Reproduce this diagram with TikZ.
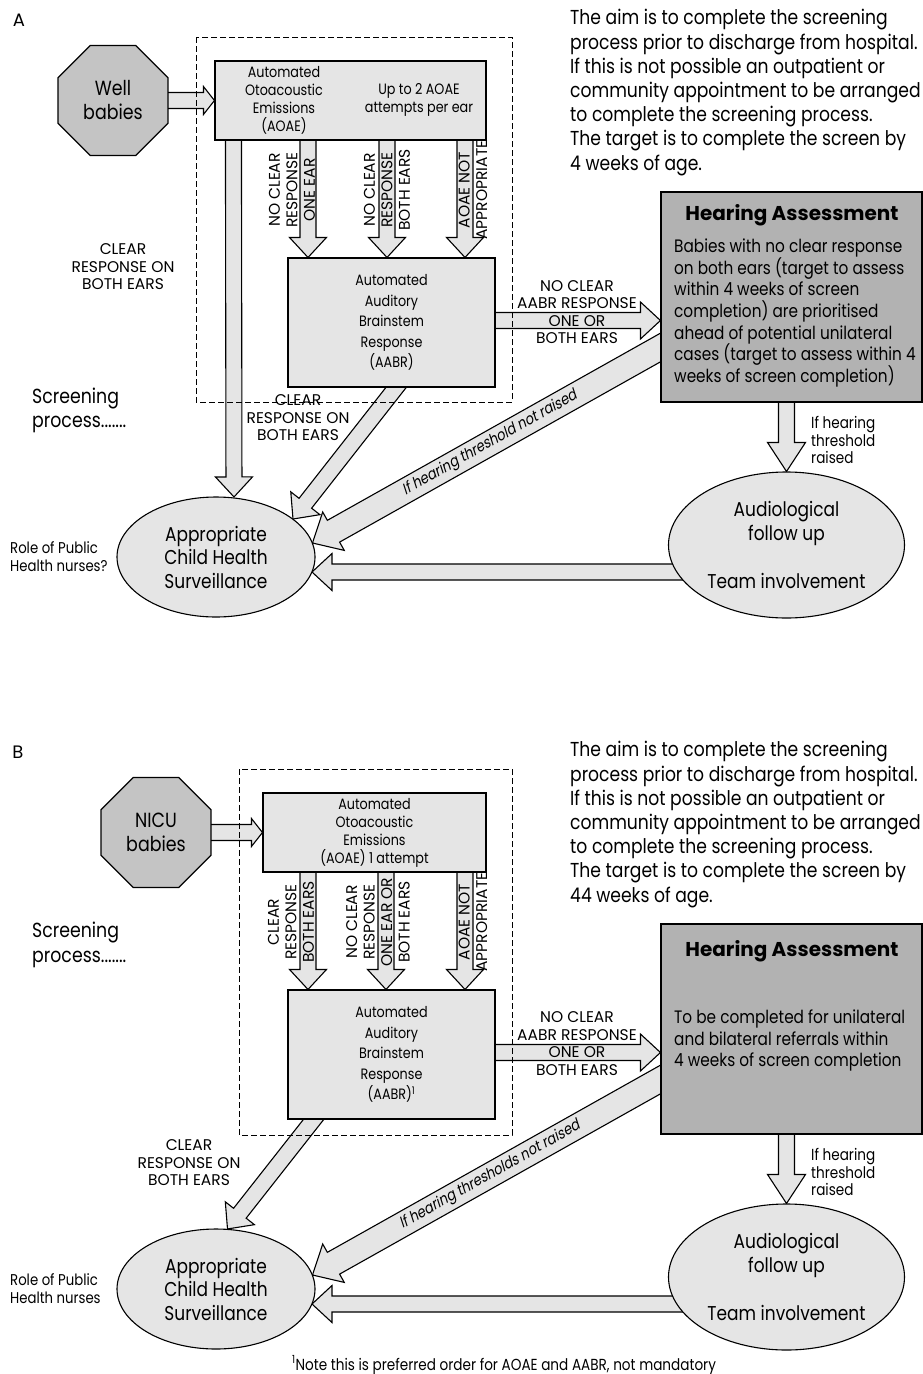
\documentclass[tikz,border=0pt]{standalone}
\usepackage{fontspec}
\setmainfont{Poppins}[FakeStretch=0.85]
\newfontfamily\myslant{Poppins}[FakeStretch=0.85,FakeSlant=0.2]
\newfontfamily\mywide{Poppins}
\usetikzlibrary{shapes.geometric,calc}
\pgfdeclarelayer{back}
\pgfdeclarelayer{bg}
\pgfsetlayers{back,bg,main}
\newdimen\BAsw \newdimen\BAhw \newdimen\BAhl \newdimen\BAext
\definecolor{lightfill}{gray}{0.9}
\definecolor{octfill}{gray}{0.77}
\definecolor{hearfill}{gray}{0.70}
\newcommand{\myAim}{\fontsize{20.2}{24.2}\selectfont}
\newcommand{\myBody}{\fontsize{18}{21.7}\selectfont}
\newcommand{\myTitle}{\mywide\fontsize{20}{22}\selectfont\bfseries}
\newcommand{\myEll}{\fontsize{20}{23.5}\selectfont}
\newcommand{\myBoxA}{\fontsize{15}{18}\selectfont}
\newcommand{\myBoxB}{\fontsize{15}{20.5}\selectfont}
\newcommand{\myCap}{\mywide\fontsize{15.5}{17.5}\selectfont}
\newcommand{\mySmall}{\fontsize{16}{17.5}\selectfont}
\newcommand{\myRole}{\fontsize{15.6}{17.5}\selectfont}
\newcommand{\myOct}{\fontsize{20.5}{24}\selectfont}
\newcommand{\myScr}{\fontsize{20.4}{24.5}\selectfont}
\newcommand{\myLet}{\mywide\fontsize{18}{20}\selectfont}
\tikzset{
  bsw/.code={\BAsw=#1\relax}, bhw/.code={\BAhw=#1\relax},
  bhl/.code={\BAhl=#1\relax}, bext/.code={\BAext=#1\relax},
  barrow/.style={draw=black, fill=lightfill, line width=1.1pt, line join=miter,
    bsw=8pt, bhw=18.5pt, bhl=20pt, bext=4pt,
    to path={let \p1=(\tikztostart), \p2=(\tikztotarget),
      \n1={atan2(\y2-\y1,\x2-\x1)},
      \n2={veclen(\x2-\x1,\y2-\y1)-\BAhl} in
      ($(\p1)+(\n1+180:\the\BAext)+(\n1+90:\the\BAsw)$)
      -- ($(\p1)+(\n1:\n2)+(\n1+90:\the\BAsw)$)
      -- ($(\p1)+(\n1:\n2)+(\n1+90:\the\BAhw)$)
      -- (\p2)
      -- ($(\p1)+(\n1:\n2)+(\n1-90:\the\BAhw)$)
      -- ($(\p1)+(\n1:\n2)+(\n1-90:\the\BAsw)$)
      -- ($(\p1)+(\n1+180:\the\BAext)+(\n1-90:\the\BAsw)$)
      -- cycle}},
  smallhead/.style={bhw=14pt, bhl=11pt},
  widearrow/.style={bsw=12.5pt, bhw=22pt, bhl=24pt, bext=14pt},
  longhead/.style={bhl=29pt, bhw=19pt},
  procbox/.style={draw, fill=lightfill, line width=1.1pt, inner sep=0pt},
  hearbox/.style={draw, fill=hearfill, line width=1.1pt, inner sep=0pt, minimum width=261pt, minimum height=210pt},
  oct/.style={regular polygon, regular polygon sides=8, draw, fill=octfill, line width=1.1pt,
    minimum size=119pt, inner sep=0pt, align=center, font=\myOct},
  ell/.style={ellipse, draw, fill=lightfill, line width=1.1pt, inner sep=0pt, align=center, font=\myEll},
  dashedbox/.style={draw, dash pattern=on 6pt off 3pt, line width=1pt},
  txt/.style={inner sep=0pt, align=center},
  vlab/.style={rotate=90, inner sep=0pt, align=center, font=\myCap},
}
\begin{document}
\begin{tikzpicture}[x=1pt,y=-1pt]
\useasboundingbox (0,0) rectangle (923,1374);
\begin{pgfonlayer}{back}
\fill[white] (0,0) rectangle (923,1374);
\end{pgfonlayer}

%% ================= PANEL A =================
\node[txt, font=\myLet] (labA) at (19,20) {A};
\node[txt, font=\myAim, align=left, anchor=west] (aimA) at (570,92.5)
  {The aim is to complete the screening\\process prior to discharge from hospital.\\If this is not possible an outpatient or\\community appointment to be arranged\\to complete the screening process.\\The target is to complete the screen by\\4 weeks of age.};
\node[oct] (wellA) at (113,100.5) {Well\\babies};
\node[procbox, minimum width=271pt, minimum height=79pt] (aoaeA) at (350.5,100.5) {};
\node[txt, font=\myBoxA] (aoaeAt1) at (284,100) {Automated\\Otoacoustic\\Emissions\\(AOAE)};
\node[txt, font=\myBoxA] (aoaeAt2) at (419,100) {Up to 2 AOAE\\attempts per ear};
\node[procbox, minimum width=207pt, minimum height=129pt, font=\myBoxB, align=center] (aabrA) at (391.5,322.5)
  {Automated\\Auditory\\Brainstem\\Response\\(AABR)};
\node[hearbox] (hearA) at (791.5,297) {};
\node[txt, font=\myTitle] (hearAt) at (792,215) {Hearing Assessment};
\node[txt, font=\myBody, align=left, anchor=west] (hearAb) at (674,313)
  {Babies with no clear response\\on both ears (target to assess\\within 4 weeks of screen\\completion) are prioritised\\ahead of potential unilateral\\cases (target to assess within 4\\weeks of screen completion)};
\node[ell, minimum width=198pt, minimum height=120pt] (chsA) at (216,557) {Appropriate\\Child Health\\Surveillance};
\node[ell, minimum width=236pt, minimum height=146pt] (audA) at (786.5,545) {Audiological\\follow up\\[25pt]Team involvement};

\node[txt, font=\myCap] (clrA) at (123,267) {CLEAR\\RESPONSE ON\\BOTH EARS};
\node[txt, font=\myScr, align=left, anchor=west] (scrA) at (32,410.5) {Screening\\process.......};
\node[txt, font=\myRole, align=left, anchor=west] (roleA) at (10,556.5) {Role of Public\\Health nurses?};
\node[vlab] (v1A) at (292,190) {NO CLEAR\\RESPONSE\\ONE EAR};
\node[vlab] (v2A) at (387,190) {NO CLEAR\\RESPONSE\\BOTH EARS};
\node[vlab] (v3A) at (473,190) {AOAE NOT\\APPROPRIATE};
\node[txt, font=\myCap] (nocA) at (577,312) {NO CLEAR\\AABR RESPONSE\\ONE OR\\BOTH EARS};
\node[txt, font=\myCap] (clr2A) at (298,418) {CLEAR\\RESPONSE ON\\BOTH EARS};
\node[txt, font=\mySmall, align=left, anchor=west] (raiA) at (811,440) {If hearing\\threshold\\raised};

\coordinate (thrAs) at ($(hearA.west)+(0,50.5)$);
\coordinate (thrAe) at ($(chsA.center)+(96.5,-14)$);

\begin{pgfonlayer}{bg}
\draw[barrow, smallhead] (wellA.east) to (aoaeA.west);
\draw[barrow] ($(aoaeA.south west)+(19,0)$) to ($(chsA.north)+(18,0.5)$);
\draw[barrow] ($(aoaeA.south)+(-42.5,0)$) to ($(aabrA.north)+(-83.5,0)$);
\draw[barrow] ($(aoaeA.south)+(36.5,0)$) to ($(aabrA.north)+(-4.5,0)$);
\draw[barrow] ($(aoaeA.south)+(114.5,0)$) to ($(aabrA.north)+(73.5,0)$);
\draw[barrow] ($(aabrA.east)+(0,-2)$) to ($(hearA.west)+(0,23.5)$);
\draw[barrow, bext=12pt] ($(aabrA.south)+(4.5,0)$) to ($(chsA.center)+(77,-38)$);
\draw[barrow, widearrow] (thrAs) to (thrAe);
\draw[barrow, longhead] ($(hearA.south)+(-5,0)$) to (audA.north);
\draw[barrow, bext=0pt] ($(audA.center)+(-100,27)$) to ($(chsA.center)+(96,15)$);
\end{pgfonlayer}
\path (thrAe) -- node[pos=0.51, sloped, txt, font=\myslant\fontsize{15.5}{17}\selectfont] (thrAt) {If hearing threshold not raised} (thrAs);
\draw[dashedbox] (196,37) rectangle (512,402);

%% ================= PANEL B =================
\node[txt, font=\myLet] (labB) at (18,752) {B};
\node[txt, font=\myAim, align=left, anchor=west] (aimB) at (570,824.5)
  {The aim is to complete the screening\\process prior to discharge from hospital.\\If this is not possible an outpatient or\\community appointment to be arranged\\to complete the screening process.\\The target is to complete the screen by\\44 weeks of age.};
\node[oct] (nicuB) at (156,832.5) {NICU\\babies};
\node[procbox, minimum width=223pt, minimum height=79pt] (aoaeB) at (374.5,832.5) {};
\node[txt, font=\myBoxA] (aoaeBt) at (374.5,833) {Automated\\Otoacoustic\\Emissions\\(AOAE) 1 attempt};
\node[procbox, minimum width=207pt, minimum height=129pt, font=\myBoxB, align=center] (aabrB) at (391.5,1054.5)
  {Automated\\Auditory\\Brainstem\\Response\\(AABR)\textsuperscript{1}};
\node[hearbox] (hearB) at (791.5,1029) {};
\node[txt, font=\myTitle] (hearBt) at (792,951) {Hearing Assessment};
\node[txt, font=\myBody, align=left, anchor=west] (hearBb) at (674,1040.5)
  {To be completed for unilateral\\and bilateral referrals within\\4 weeks of screen completion};
\node[ell, minimum width=198pt, minimum height=120pt] (chsB) at (216,1289) {Appropriate\\Child Health\\Surveillance};
\node[ell, minimum width=236pt, minimum height=146pt] (audB) at (786.5,1277) {Audiological\\follow up\\[25pt]Team involvement};

\node[txt, font=\myScr, align=left, anchor=west] (scrB) at (32,945) {Screening\\process.......};
\node[txt, font=\myRole, align=left, anchor=west] (roleB) at (10,1288.5) {Role of Public\\Health nurses};
\node[vlab] (v1B) at (291,922) {CLEAR\\RESPONSE\\BOTH EARS};
\node[vlab] (v2B) at (378,922) {NO CLEAR\\RESPONSE\\ONE EAR OR\\BOTH EARS};
\node[vlab] (v3B) at (473,922) {AOAE NOT\\APPROPRIATE};
\node[txt, font=\myCap] (nocB) at (577,1043.5) {NO CLEAR\\AABR RESPONSE\\ONE OR\\BOTH EARS};
\node[txt, font=\myCap] (clrB) at (189,1163) {CLEAR\\RESPONSE ON\\BOTH EARS};
\node[txt, font=\mySmall, align=left, anchor=west] (raiB) at (811,1172) {If hearing\\threshold\\raised};
\node[txt, font=\mySmall] (noteB) at (504,1365) {\textsuperscript{1}Note this is preferred order for AOAE and AABR, not mandatory};

\coordinate (thrBs) at ($(hearB.west)+(0,50.5)$);
\coordinate (thrBe) at ($(chsB.center)+(96.5,-14)$);

\begin{pgfonlayer}{bg}
\draw[barrow, smallhead] (nicuB.east) to (aoaeB.west);
\draw[barrow] ($(aoaeB.south)+(-66.5,0)$) to ($(aabrB.north)+(-83.5,0)$);
\draw[barrow] ($(aoaeB.south)+(11.5,0)$) to ($(aabrB.north)+(-5.5,0)$);
\draw[barrow] ($(aoaeB.south)+(90.5,0)$) to ($(aabrB.north)+(73.5,0)$);
\draw[barrow] ($(aabrB.east)+(0,-2)$) to ($(hearB.west)+(0,23.5)$);
\draw[barrow, bext=12pt] ($(aabrB.south)+(-78,0)$) to ($(chsB.north)+(11.5,0.5)$);
\draw[barrow, widearrow] (thrBs) to (thrBe);
\draw[barrow, longhead] ($(hearB.south)+(-5,0)$) to (audB.north);
\draw[barrow, bext=0pt] ($(audB.center)+(-100,27)$) to ($(chsB.center)+(96,15)$);
\end{pgfonlayer}
\path (thrBe) -- node[pos=0.51, sloped, txt, font=\myslant\fontsize{15.5}{17}\selectfont] (thrBt) {If hearing thresholds not raised} (thrBs);
\draw[dashedbox] (239,769) rectangle (512,1135);
\end{tikzpicture}
\end{document}
